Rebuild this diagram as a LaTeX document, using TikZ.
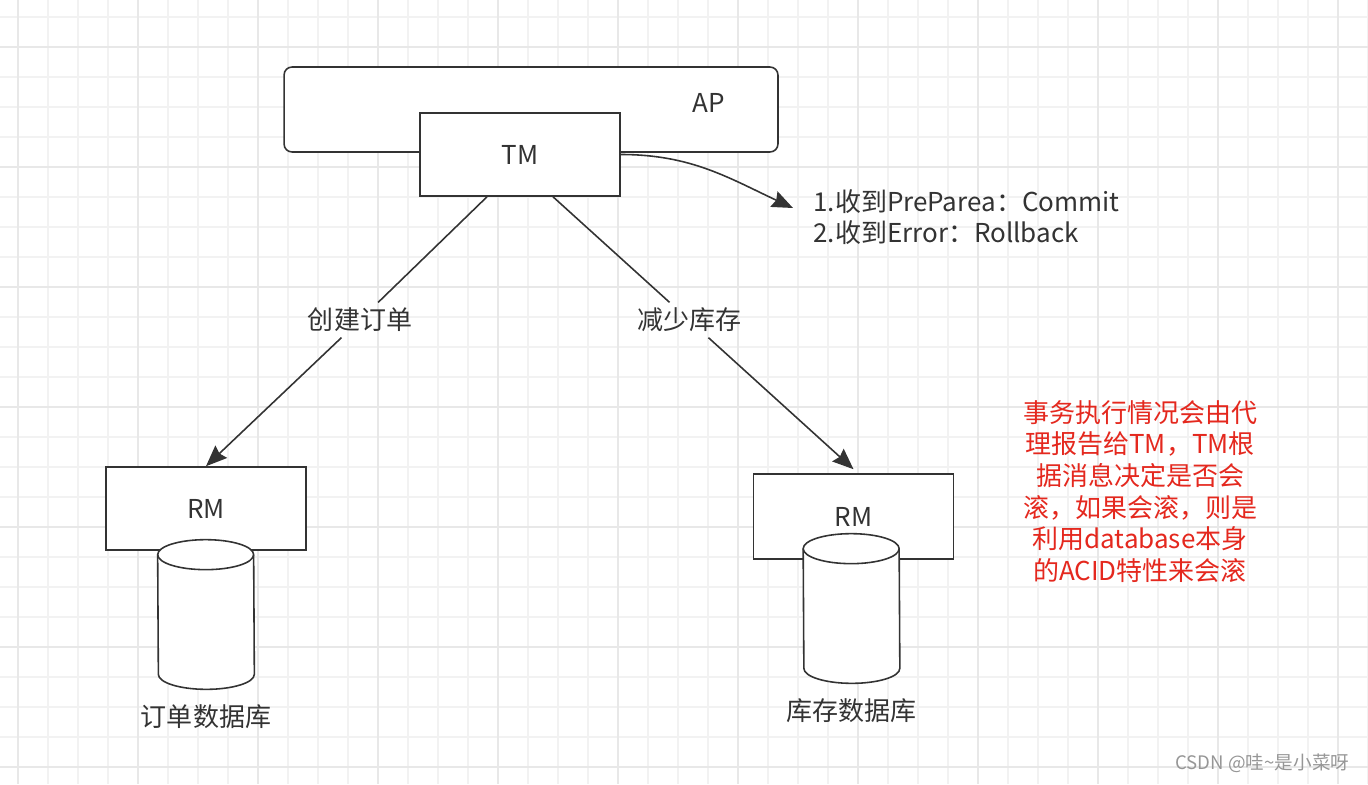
\documentclass[tikz,border=0pt]{standalone}
\usepackage{fontspec}
\setmainfont{Noto Sans CJK SC}
\usepackage{tikz}
\usetikzlibrary{arrows.meta,positioning}
\definecolor{LineGray}{RGB}{51,51,51}
\definecolor{GridMinor}{RGB}{242,242,242}
\definecolor{GridMajor}{RGB}{232,232,232}
\definecolor{NoteRed}{RGB}{228,40,30}
\definecolor{MarkGray}{RGB}{150,150,150}
\def\mainsize{\fontsize{14.8pt}{18pt}\selectfont}
\tikzset{
	gridline/.style={draw=GridMinor,line width=1.1pt},
	gridmajor/.style={draw=GridMajor,line width=1.1pt},
	txt/.style={text=LineGray,font=\mainsize,inner sep=3pt},
	box/.style={draw=LineGray,line width=0.9pt,fill=white,
		minimum width=4cm,minimum height=1.66cm,txt},
	apbox/.style={box,rounded corners=0.16cm,minimum width=9.88cm,minimum height=1.7cm},
	dbbox/.style={minimum width=1.92cm,minimum height=2.98cm,inner sep=0pt},
	dbside/.style={x radius=0.96cm,y radius=0.3cm},
	conn/.style={draw=LineGray,line width=0.9pt},
	arrow/.style={conn,-{Stealth[length=0.42cm,width=0.34cm,inset=0.05cm]}}
}

\begin{document}
\begin{tikzpicture}[x=0.02cm,y=-0.02cm]
	\useasboundingbox (0,0) rectangle (1368,784);
	\foreach \gx in {18,48,...,1368} \draw[gridline] (\gx,0) -- (\gx,784);
	\foreach \gy in {17,47,...,767} \draw[gridline] (0,\gy) -- (1368,\gy);
	\foreach \gx in {18,138,...,1368} \draw[gridmajor] (\gx,0) -- (\gx,784);
	\foreach \gy in {47,167,...,767} \draw[gridmajor] (0,\gy) -- (1368,\gy);

	\node[apbox] (AP) at (531,109.5) {};
	\node[txt] (APname) at (709,103) {AP};
	\node[box] (TM) at (520,154.5) {TM};
	\node[box] (RM1) at (206,508.5) {RM};
	\node[box,minimum height=1.7cm] (RM2) at (853.5,516.5) {RM};
	\node[dbbox] (DB1) at (206,614.5) {};
	\node[dbbox] (DB2) at (851.5,608.5) {};
	\foreach \db in {DB1,DB2} {
		\draw[conn,fill=white] ([yshift=-0.3cm]\db.north west)
			arc[start angle=180,end angle=0,dbside] -- ([yshift=0.3cm]\db.south east)
			arc[start angle=0,end angle=-180,dbside] -- cycle;
		\draw[conn] ([yshift=-0.3cm]\db.north west) arc[start angle=180,end angle=360,dbside];
	}
	\node[txt,below=0.2cm of DB1] (DB1name) {订单数据库};
	\node[txt,below=0.2cm of DB2] (DB2name) {库存数据库};

	\node[txt] (order) at (360,320) {创建订单};
	\node[txt] (stock) at (689,320) {减少库存};
	\draw[conn] ([xshift=-0.66cm]TM.south) -- (order);
	\draw[arrow] (order) -- (RM1.north);
	\draw[conn] ([xshift=0.66cm]TM.south) -- (stock);
	\draw[arrow] (stock) -- ([yshift=0.08cm]RM2.north);

	\node[txt,anchor=west,align=left,inner sep=0pt] (result) at (813,217)
		{1.收到PreParea：Commit\\2.收到Error：Rollback};
	\coordinate (tip) at (793,208);
	\draw[arrow] (TM.east) to[out=0,in=155] (tip);

	\node[txt,align=center,text=NoteRed] (reason) at (1140,491.5)
		{事务执行情况会由代\\理报告给TM，TM根\\据消息决定是否会\\滚，如果会滚，则是\\利用database本身\\的ACID特性来会滚};
	\node[txt,anchor=east,text=MarkGray,font=\fontsize{10.6pt}{12pt}\selectfont] (csdn) at (1355,763)
		{CSDN @哇\textasciitilde{}是小菜呀};
\end{tikzpicture}
\end{document}
